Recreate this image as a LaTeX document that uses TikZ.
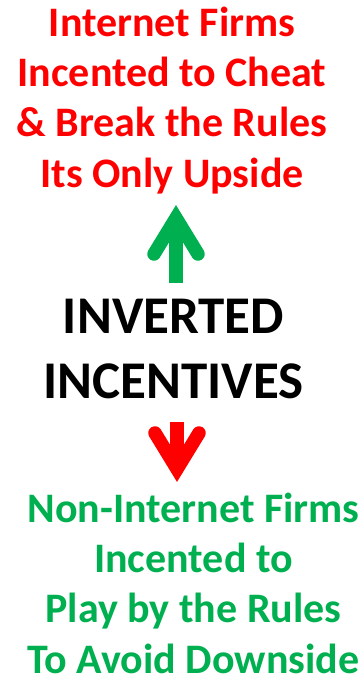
\documentclass[tikz,border=0pt]{standalone}
\usepackage{fontspec}
\setmainfont{Carlito}
\definecolor{offgreen}{RGB}{0,176,80}
\begin{document}
\begin{tikzpicture}[x=1pt,y=-1pt]
		\tikzset{blurb/.style = {align=center,inner sep=0pt,anchor=base,font=\bfseries\fontsize{42}{50.3}\selectfont}}
		\tikzset{headline/.style = {blurb,font=\bfseries\fontsize{53}{64.5}\selectfont}}
		\tikzset{fatline/.style = {line width=13.5pt,line cap=butt}}
		\tikzset{chevron/.style = {line width=13.5pt,line cap=round,line join=miter,miter limit=10}}
		\useasboundingbox (0,0) rectangle (364,678);
		\node[blurb,text=red] (top) at (172,187) {Internet Firms\\Incented to Cheat\\\& Break the Rules\\Its Only Upside};
		\node[headline] (middle) at (173.5,398) {INVERTED\\INCENTIVES};
		\node[blurb,text=offgreen] (bottom) at (193.5,673) {Non-Internet Firms\\Incented to\\Play by the Rules\\To Avoid Downside};
		\coordinate (gtail) at (176,283);
		\coordinate (ghead) at (176,218);
		\coordinate (rtail) at (177,422);
		\coordinate (rhead) at (177,469);
		\draw[fatline,offgreen] (gtail) -- (ghead);
		\draw[chevron,offgreen] ([shift={(-22,36)}]ghead) -- (ghead) -- ([shift={(22,36)}]ghead);
		\draw[fatline,red] (rtail) -- (rhead);
		\draw[chevron,red] ([shift={(-22,-36)}]rhead) -- (rhead) -- ([shift={(22,-36)}]rhead);
	\end{tikzpicture}
\end{document}
